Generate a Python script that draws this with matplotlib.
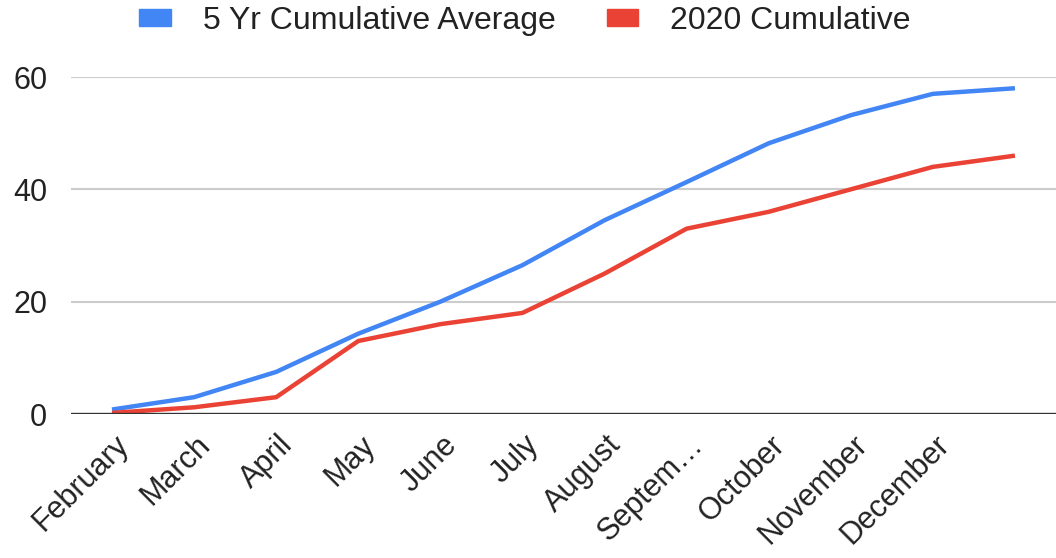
import numpy as np
import matplotlib.pyplot as plt
import matplotlib.transforms as mtransforms
from matplotlib.patches import Patch

# -----------------------------
# Data
# -----------------------------
months = ['February', 'March', 'April', 'May', 'June', 'July', 'August',
          'Septem…', 'October', 'November', 'December']
avg_5yr = [0.8, 3.0, 7.5, 14.3, 20.0, 26.5, 34.5, 41.3, 48.2, 53.2, 57.0, 58.0]
cum_2020 = [0.2, 1.2, 3.0, 13.0, 16.0, 18.0, 25.0, 33.0, 36.0, 40.0, 44.0, 46.0]
yticks = [0, 20, 40, 60]

blue = '#4285F4'
red = '#EA4335'

plt.rcParams['font.family'] = ['Liberation Sans', 'DejaVu Sans']

fig = plt.figure(figsize=(10.56, 5.58), dpi=100)
ax = fig.add_axes([0.0672, 0.258, 0.9328, 0.604])

x = np.arange(len(avg_5yr))
ax.plot(x, avg_5yr, color=blue, linewidth=3.2, solid_capstyle='butt', zorder=3)
ax.plot(x, cum_2020, color=red, linewidth=3.2, solid_capstyle='butt', zorder=3)

# axes, grid
ax.set_xlim(-0.5, len(avg_5yr) - 0.5)
ax.set_ylim(0, 60)
ax.set_yticks(yticks)
ax.set_yticklabels([str(v) for v in yticks])
ax.grid(axis='y', color='#cccccc', linewidth=1.5)
ax.axhline(0, color='#333333', linewidth=2.4, zorder=4)
for s in ax.spines.values():
    s.set_visible(False)
ax.tick_params(axis='y', length=0, pad=17, labelsize=22, labelcolor='#222222')

ax.set_xticks(np.arange(len(months)))
ax.set_xticklabels(months, rotation=45, ha='right', va='center',
                   rotation_mode='anchor', fontsize=22, color='#222222')
ax.tick_params(axis='x', length=0, pad=19)
# nudge the rotated labels to the right, like the original
shift = mtransforms.ScaledTranslation(0.12, 0, fig.dpi_scale_trans)
for lab in ax.get_xticklabels():
    lab.set_transform(lab.get_transform() + shift)

# legend
handles = [Patch(color=blue), Patch(color=red)]
fig.legend(handles, ['5 Yr Cumulative Average', '2020 Cumulative'],
           loc='center', bbox_to_anchor=(0.497, 0.963), ncol=2, frameon=False,
           fontsize=23, handlelength=1.0, handleheight=0.45, handletextpad=1.0,
           columnspacing=1.6, labelcolor='#222222')

fig.savefig('out.png', dpi=100)
